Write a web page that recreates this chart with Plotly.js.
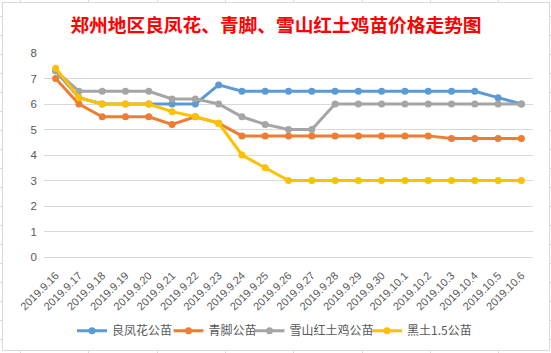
<!DOCTYPE html>
<html>
<head>
<meta charset="utf-8">
<script src="https://cdn.plot.ly/plotly-3.0.1.min.js"></script>
<style>
html,body{margin:0;padding:0;background:#fff;}
#wrap{position:relative;width:551px;height:353px;overflow:hidden;
  background-color:#fff;
  background-image:
    repeating-linear-gradient(to right, transparent 0, transparent 20px, #D9D9D9 20px, #D9D9D9 21px, transparent 21px, transparent 68.3px),
    repeating-linear-gradient(to bottom, transparent 0, transparent 16px, #D9D9D9 16px, #D9D9D9 17px, transparent 17px, transparent 19px);
}
#chart{position:absolute;left:2px;top:2px;width:546px;height:347px;border:1px solid #D9D9D9;background:#fff;}
</style>
</head>
<body>
<div id="wrap"><div id="chart"></div></div>
<script>
const categories = ["2019.9.16","2019.9.17","2019.9.18","2019.9.19","2019.9.20","2019.9.21","2019.9.22","2019.9.23","2019.9.24","2019.9.25","2019.9.26","2019.9.27","2019.9.28","2019.9.29","2019.9.30","2019.10.1","2019.10.2","2019.10.3","2019.10.4","2019.10.5","2019.10.6"];
const liangfenghua = [7.3,6.25,6.0,6.0,6.0,6.0,6.0,6.75,6.5,6.5,6.5,6.5,6.5,6.5,6.5,6.5,6.5,6.5,6.5,6.25,6.0];
const qingjiao = [7.0,6.0,5.5,5.5,5.5,5.2,5.5,5.25,4.75,4.75,4.75,4.75,4.75,4.75,4.75,4.75,4.75,4.65,4.65,4.65,4.65];
const xueshan = [7.3,6.5,6.5,6.5,6.5,6.2,6.2,6.0,5.5,5.2,5.0,5.0,6.0,6.0,6.0,6.0,6.0,6.0,6.0,6.0,6.0];
const heitu = [7.4,6.25,6.0,6.0,6.0,5.7,5.5,5.25,4.0,3.5,3.0,3.0,3.0,3.0,3.0,3.0,3.0,3.0,3.0,3.0,3.0];
const seriesNames = ["良凤花公苗","青脚公苗","雪山红土鸡公苗","黑土1.5公苗"];
const colors = ["#5B9BD5","#ED7D31","#A5A5A5","#FFC000"];
const values = [liangfenghua, qingjiao, xueshan, heitu];
const yTicks = [0,1,2,3,4,5,6,7,8];

const legendIds = ['legend','legend2','legend3','legend4'];
const legendX = [69, 165.5, 246.5, 364];

const traces = values.map((v,i)=>({
  type:'scatter', mode:'lines+markers', name:seriesNames[i],
  x:categories, y:v, legend:legendIds[i],
  line:{color:colors[i], width:3},
  marker:{color:colors[i], size:7}
}));

const font = "Liberation Sans, Noto Sans CJK SC, sans-serif";
const W = 546, H = 347;
const layout = {
  width:W, height:H,
  margin:{l:41, r:16, t:50, b:93},
  paper_bgcolor:'#fff', plot_bgcolor:'#fff',
  showlegend:true,
  title:{text:"郑州地区良凤花、青脚、雪山红土鸡苗价格走势图", font:{family:"Noto Sans CJK SC, sans-serif", size:18.7, color:"#FF0000", weight:700},
    x:0.5, xref:'container', xanchor:'center', y:0.936, yref:'container', yanchor:'middle'},
  xaxis:{type:'category', range:[-0.5,20.5], tickangle:-45, showgrid:false, showline:false, zeroline:false,
    ticks:'', ticklabelstandoff:9, tickfont:{family:font, size:11, color:'#595959'}, automargin:false, fixedrange:true},
  yaxis:{range:[0,8], tickvals:yTicks, showgrid:true, gridcolor:'#D9D9D9', gridwidth:1, zeroline:true, zerolinecolor:'#D9D9D9', zerolinewidth:1,
    showline:false, ticks:'', ticklabelstandoff:6, tickfont:{family:font, size:11.5, color:'#595959'}, automargin:false, fixedrange:true}
};
legendIds.forEach((id,i)=>{
  layout[id] = {orientation:'h', x:legendX[i]/W, xref:'container', xanchor:'left', y:(H-327.7)/H, yref:'container', yanchor:'middle',
    font:{family:"Noto Sans CJK SC, sans-serif", size:12, color:'#595959'}, itemwidth:30, borderwidth:0, bgcolor:'rgba(0,0,0,0)'};
});
Plotly.newPlot('chart', traces, layout, {displayModeBar:false, staticPlot:true});
</script>
</body>
</html>
